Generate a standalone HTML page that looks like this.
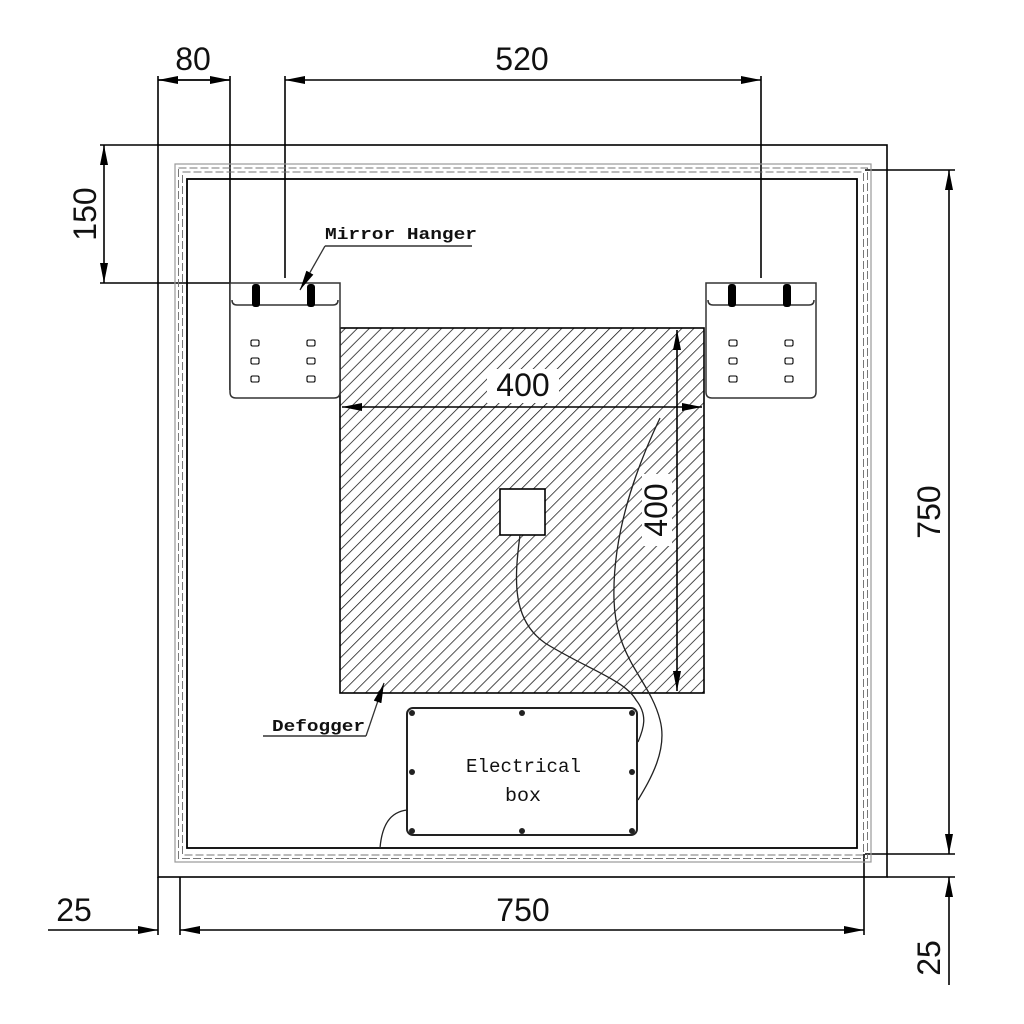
<!DOCTYPE html>
<html><head><meta charset="utf-8"><style>html,body{margin:0;padding:0;background:#fff}svg{display:block}</style></head><body>
<svg width="1024" height="1024" viewBox="0 0 1024 1024" xmlns="http://www.w3.org/2000/svg">
<defs>
<pattern id="h" width="8.5" height="8.5" patternUnits="userSpaceOnUse" patternTransform="rotate(45)">
<line x1="0" y1="0" x2="0" y2="8.5" stroke="#111" stroke-width="1.5"/>
</pattern>
<marker id="a" viewBox="0 0 20 10" refX="20" refY="5" markerWidth="20" markerHeight="10" markerUnits="userSpaceOnUse" orient="auto-start-reverse"><path d="M0,1 L20,5 L0,9 Z" fill="#000"/></marker>
</defs>
<rect width="1024" height="1024" fill="#fff"/>
<g fill="none" stroke="#000" stroke-width="1.6">
<rect x="158" y="145" width="729" height="732"/>
<line x1="100" y1="145" x2="158" y2="145"/>
<line x1="158" y1="76" x2="158" y2="145"/>
<line x1="158" y1="877" x2="158" y2="935"/>
<line x1="230" y1="76" x2="230" y2="390"/>
<line x1="285" y1="76" x2="285" y2="278"/>
<line x1="761" y1="76" x2="761" y2="278"/>
<line x1="100" y1="283" x2="230" y2="283"/>
<line x1="865" y1="170" x2="955" y2="170"/>
<line x1="865" y1="854" x2="955" y2="854"/>
<line x1="887" y1="877" x2="955" y2="877"/>
<line x1="180" y1="877" x2="180" y2="935"/>
<line x1="864" y1="854" x2="864" y2="935"/>
</g>
<rect x="175" y="164" width="696" height="698" fill="none" stroke="#999" stroke-width="1.2"/>
<rect x="178.5" y="168" width="689" height="690.5" fill="none" stroke="#777" stroke-width="1" stroke-dasharray="8,3"/>
<rect x="182.5" y="172" width="681" height="683" fill="none" stroke="#777" stroke-width="1" stroke-dasharray="8,3"/>
<rect x="187" y="179" width="670" height="669" fill="none" stroke="#000" stroke-width="1.8"/>
<rect x="340" y="328" width="364" height="365" fill="url(#h)" stroke="#000" stroke-width="1.6"/>
<rect x="487" y="369" width="72" height="34" fill="#fff"/>
<rect x="642" y="474" width="30" height="72" fill="#fff"/>
<rect x="500" y="489" width="45" height="46" fill="#fff" stroke="#000" stroke-width="1.6"/>
<g fill="#fff" stroke="#333" stroke-width="1.5">
<path d="M230,283 H340 V392 Q340,398 334,398 H236 Q230,398 230,392 Z"/>
<path d="M232,300 Q232,305 237,305 H333 Q338,305 338,300" fill="none"/>
<path d="M706,283 H816 V392 Q816,398 810,398 H712 Q706,398 706,392 Z"/>
<path d="M708,300 Q708,305 713,305 H809 Q814,305 814,300" fill="none"/>
</g>
<g fill="#000">
<rect x="252" y="284" width="8" height="23" rx="3"/><rect x="307" y="284" width="8" height="23" rx="3"/>
<rect x="728" y="284" width="8" height="23" rx="3"/><rect x="783" y="284" width="8" height="23" rx="3"/>
</g>
<g fill="none" stroke="#000" stroke-width="1.1">
<rect x="251" y="340" width="8" height="6" rx="1.5"/><rect x="251" y="358" width="8" height="6" rx="1.5"/><rect x="251" y="376" width="8" height="6" rx="1.5"/>
<rect x="307" y="340" width="8" height="6" rx="1.5"/><rect x="307" y="358" width="8" height="6" rx="1.5"/><rect x="307" y="376" width="8" height="6" rx="1.5"/>
<rect x="729" y="340" width="8" height="6" rx="1.5"/><rect x="729" y="358" width="8" height="6" rx="1.5"/><rect x="729" y="376" width="8" height="6" rx="1.5"/>
<rect x="785" y="340" width="8" height="6" rx="1.5"/><rect x="785" y="358" width="8" height="6" rx="1.5"/><rect x="785" y="376" width="8" height="6" rx="1.5"/>
</g>
<rect x="407" y="708" width="230" height="127" rx="6" fill="#fff" stroke="#222" stroke-width="2"/>
<g fill="#222">
<circle cx="412" cy="713" r="3"/><circle cx="522" cy="713" r="3"/><circle cx="632" cy="713" r="3"/>
<circle cx="412" cy="772" r="3"/><circle cx="632" cy="772" r="3"/>
<circle cx="412" cy="831" r="3"/><circle cx="522" cy="831" r="3"/><circle cx="632" cy="831" r="3"/>
</g>
<g fill="none" stroke="#222" stroke-width="1.3">
<path d="M520,535 C514,580 512,620 545,643 C585,668 625,680 636,700 C648,715 644,728 638,742"/>
<path d="M660,418 C640,460 612,530 614,600 C616,660 650,680 660,720 C668,750 650,780 638,800"/>
<path d="M407,810 C390,812 382,825 380,848"/>
</g>
<g stroke="#000" stroke-width="1.6" fill="none">
<line x1="230" y1="80" x2="158" y2="80" marker-end="url(#a)"/>
<line x1="158" y1="80" x2="230" y2="80" marker-end="url(#a)"/>
<line x1="285" y1="80" x2="761" y2="80" marker-start="url(#a)" marker-end="url(#a)"/>
<line x1="104" y1="145" x2="104" y2="283" marker-start="url(#a)" marker-end="url(#a)"/>
<line x1="342" y1="407" x2="702" y2="407" marker-start="url(#a)" marker-end="url(#a)"/>
<line x1="677" y1="330" x2="677" y2="691" marker-start="url(#a)" marker-end="url(#a)"/>
<line x1="949" y1="170" x2="949" y2="854" marker-start="url(#a)" marker-end="url(#a)"/>
<line x1="180" y1="930" x2="864" y2="930" marker-start="url(#a)" marker-end="url(#a)"/>
<line x1="48" y1="930" x2="158" y2="930" marker-end="url(#a)"/>
<line x1="949" y1="985" x2="949" y2="877" marker-end="url(#a)"/>
</g>
<g stroke="#333" stroke-width="1.3" fill="none">
<line x1="325" y1="246" x2="472" y2="246" stroke="#666" stroke-width="2"/>
<line x1="325" y1="246" x2="300" y2="290" marker-end="url(#a)"/>
<line x1="263" y1="736" x2="366" y2="736" stroke="#666" stroke-width="2"/>
<line x1="366" y1="736" x2="384" y2="683" marker-end="url(#a)"/>
</g>
<g font-family="Liberation Sans, sans-serif" font-size="32" fill="#111" text-anchor="middle">
<text x="193" y="70">80</text>
<text x="522" y="70">520</text>
<text x="523" y="396">400</text>
<text x="523" y="921">750</text>
<text x="74" y="921">25</text>
<text transform="translate(96,214) rotate(-90)">150</text>
<text transform="translate(667,510) rotate(-90)">400</text>
<text transform="translate(940,512) rotate(-90)">750</text>
<text transform="translate(940,958) rotate(-90)">25</text>
</g>
<g font-family="Liberation Mono, monospace" fill="#111" font-weight="bold">
<text x="325" y="239" font-size="17" textLength="152" lengthAdjust="spacingAndGlyphs">Mirror Hanger</text>
<text x="272" y="731" font-size="17" textLength="93" lengthAdjust="spacingAndGlyphs">Defogger</text>
</g>
<g font-family="Liberation Mono, monospace" fill="#111">
<text x="466" y="772" font-size="19" textLength="115" lengthAdjust="spacingAndGlyphs">Electrical</text>
<text x="505" y="801" font-size="19" textLength="36" lengthAdjust="spacingAndGlyphs">box</text>
</g>
</svg>
</body></html>
